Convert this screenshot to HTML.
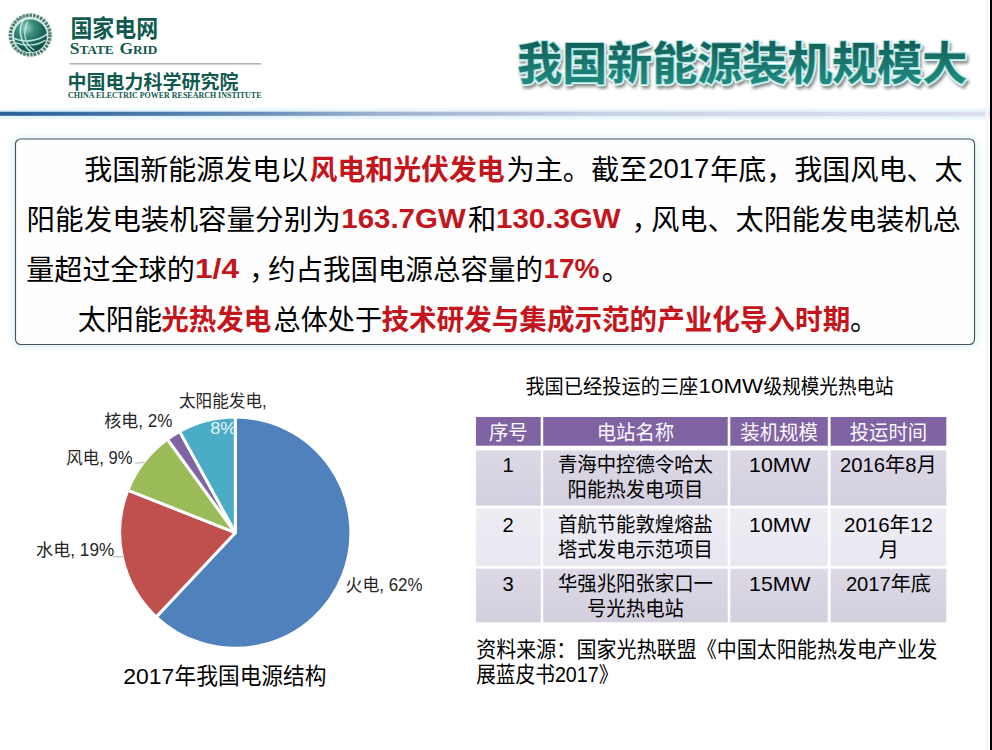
<!DOCTYPE html>
<html lang="zh-CN"><head><meta charset="utf-8"><title>我国新能源装机规模大</title>
<style>
html,body{margin:0;padding:0;background:#fff}
body{width:992px;height:750px;position:relative;overflow:hidden;font-family:"Liberation Sans","Noto Sans CJK SC",sans-serif}
#art{position:absolute;left:0;top:0;width:992px;height:750px;display:block}
#art text{font-family:"Liberation Sans","Noto Sans CJK SC",sans-serif;white-space:pre}
#art text.serif{font-family:"Liberation Serif","Noto Serif CJK SC",serif}
</style></head><body>
<svg id="art" width="992" height="750" viewBox="0 0 992 750">
<defs>
<radialGradient id="globe" cx=".36" cy=".26" r=".85"><stop offset="0" stop-color="#9ad4c4"/><stop offset=".3" stop-color="#3a8c7c"/><stop offset=".65" stop-color="#17635a"/><stop offset="1" stop-color="#0d4a42"/></radialGradient>
<linearGradient id="tg" gradientUnits="userSpaceOnUse" x1="0" y1="83.8" x2="0" y2="42.4"><stop offset="0" stop-color="#20897f"/><stop offset=".55" stop-color="#1a746c"/><stop offset="1" stop-color="#145f59"/></linearGradient>
<linearGradient id="bar" x1="0" y1="0" x2="1" y2="0"><stop offset="0" stop-color="#29619a"/><stop offset=".14" stop-color="#4876a8"/><stop offset=".26" stop-color="#688fb8"/><stop offset=".38" stop-color="#9db0ce"/><stop offset=".5" stop-color="#b4c0da"/><stop offset=".62" stop-color="#cbd2e5"/><stop offset="1" stop-color="#dcdeee"/></linearGradient>
<linearGradient id="r1" x1="0" y1="0" x2="0" y2="1"><stop offset="0" stop-color="#dcd8e5"/><stop offset="1" stop-color="#d4cfde"/></linearGradient>
<linearGradient id="r2" x1="0" y1="0" x2="0" y2="1"><stop offset="0" stop-color="#eeedf4"/><stop offset="1" stop-color="#e9e7f0"/></linearGradient>
<filter id="blur1" x="-5%" y="-100%" width="110%" height="300%"><feGaussianBlur stdDeviation="1.4"/></filter>
<filter id="blur3" x="-5%" y="-20%" width="110%" height="140%"><feGaussianBlur stdDeviation="3"/></filter>
<filter id="blur2" x="-5%" y="-20%" width="110%" height="140%"><feGaussianBlur stdDeviation="1.6"/></filter>
</defs>
<g id="logo" transform="translate(30.2 35)">
<circle r="22.3" fill="#e3f1ed"/>
<circle r="19.8" fill="none" stroke="#3f7166" stroke-width="3.5" stroke-dasharray="2.3 1.25" opacity=".85"/>
<circle r="19.5" fill="none" stroke="#2d5c53" stroke-width="2.1" stroke-dasharray="1.1 2.9 1.7 1.9" stroke-dashoffset="1" opacity=".55"/>
<circle r="17.5" fill="#cfe9e2"/>
<circle cx=".3" cy=".8" r="16.4" fill="url(#globe)"/>
<g fill="none" stroke="#cdf0e7" stroke-linecap="round" opacity=".92">
<path d="M-7 -14.2C-12.5 -6 -10 8 .4 16.6" stroke-width="1.5"/>
<path d="M-2.6 -13C-8 -2 -5.5 9 3.8 15" stroke-width="1.2"/>
<path d="M-16 3.6C-6 8.2 8 5.8 16.6 -.6" stroke-width="1.7"/>
<path d="M-14.2 7.8C-4 11.6 7 10.6 14.8 5.4" stroke-width="1.3"/>
</g></g>
<text x="70.4" y="36.7" font-size="24.4" font-weight="700" fill="#115a4f" textLength="87.8" lengthAdjust="spacingAndGlyphs">国家电网</text>
<text class="serif" x="69.8" y="53.5" font-size="17.5" font-weight="700" fill="#115a4f">S</text>
<text class="serif" x="79.43" y="53.5" font-size="13.3" font-weight="700" fill="#115a4f">TATE</text>
<text class="serif" x="119.41" y="53.5" font-size="17.5" font-weight="700" fill="#115a4f">G</text>
<text class="serif" x="132.88" y="53.5" font-size="13.3" font-weight="700" fill="#115a4f">RID</text>
<rect x="69.5" y="63.3" width="191.8" height="1.1" fill="#979393"/>
<text x="67.6" y="88.5" font-size="18.9" font-weight="700" fill="#115a4f" textLength="170.8" lengthAdjust="spacingAndGlyphs">中国电力科学研究院</text>
<text class="serif" x="68" y="98.1" font-size="8" font-weight="700" fill="#115a4f" textLength="193.5" lengthAdjust="spacingAndGlyphs">CHINA ELECTRIC POWER RESEARCH INSTITUTE</text>
<g filter="url(#blur2)" opacity=".8"><text x="519.2" y="82.6" font-size="45" font-weight="700" fill="#667474" stroke="#667474" stroke-width="3.4" stroke-linejoin="round" textLength="450" lengthAdjust="spacingAndGlyphs">我国新能源装机规模大</text></g>
<text x="517.2" y="80.2" font-size="45" font-weight="700" fill="#fff" stroke="#fff" stroke-width="4.1" stroke-linejoin="round" textLength="450" lengthAdjust="spacingAndGlyphs">我国新能源装机规模大</text>
<text x="517.2" y="80.2" font-size="45" font-weight="700" fill="#fff" stroke="#a4e2df" stroke-width="2.25" stroke-linejoin="round" textLength="450" lengthAdjust="spacingAndGlyphs">我国新能源装机规模大</text>
<text x="517.2" y="80.2" font-size="45" font-weight="700" fill="url(#tg)" textLength="450" lengthAdjust="spacingAndGlyphs">我国新能源装机规模大</text>
<rect x="0" y="109" width="990" height="10" fill="#bfe3f7" opacity=".45" filter="url(#blur1)"/>
<rect x="0" y="111.7" width="990" height="4.1" fill="url(#bar)"/>
<rect x="12.5" y="136.5" width="965.5" height="211.5" rx="9" fill="#e2f3f8" filter="url(#blur3)"/>
<rect x="15.5" y="139" width="959" height="205.5" rx="5.2" fill="#fefefe" stroke="#40585c" stroke-width="1.15"/>
<text x="84.34" y="180.1" font-size="28.24" fill="#000" textLength="224" lengthAdjust="spacingAndGlyphs">我国新能源发电以</text>
<text x="309.61" y="180.1" font-size="28.24" font-weight="700" fill="#c3151b" textLength="195" lengthAdjust="spacingAndGlyphs">风电和光伏发电</text>
<text x="506.45" y="180.1" font-size="28.24" fill="#000" textLength="141" lengthAdjust="spacingAndGlyphs">为主。截至</text>
<text x="648.2" y="178.12" font-size="27.2" fill="#000" textLength="61" lengthAdjust="spacingAndGlyphs">2017</text>
<text x="710.24" y="180.1" font-size="28.24" fill="#000" textLength="252.3" lengthAdjust="spacingAndGlyphs">年底，我国风电、太</text>
<text x="26.54" y="230.2" font-size="28.24" fill="#000" textLength="314.3" lengthAdjust="spacingAndGlyphs">阳能发电装机容量分别为</text>
<text x="341.3" y="228.1" font-size="27.6" font-weight="700" fill="#c3151b" textLength="124.4" lengthAdjust="spacingAndGlyphs">163.7GW</text>
<text x="467.97" y="230.2" font-size="28.24" fill="#000">和</text>
<text x="496" y="228.1" font-size="27.6" font-weight="700" fill="#c3151b" textLength="124.7" lengthAdjust="spacingAndGlyphs">130.3GW</text>
<text x="631.5" y="230.2" font-size="28.24" fill="#000">，</text>
<text x="651.17" y="230.2" font-size="28.24" fill="#000" textLength="309.4" lengthAdjust="spacingAndGlyphs">风电、太阳能发电装机总</text>
<text x="26.27" y="280.1" font-size="28.24" fill="#000" textLength="168.6" lengthAdjust="spacingAndGlyphs">量超过全球的</text>
<text x="195" y="278" font-size="27.6" font-weight="700" fill="#c3151b" textLength="44" lengthAdjust="spacingAndGlyphs">1/4</text>
<text x="249" y="280.1" font-size="28.24" fill="#000">，</text>
<text x="268.08" y="280.1" font-size="28.24" fill="#000" textLength="275" lengthAdjust="spacingAndGlyphs">约占我国电源总容量的</text>
<text x="543.5" y="278" font-size="27.6" font-weight="700" fill="#c3151b" textLength="56" lengthAdjust="spacingAndGlyphs">17%</text>
<text x="601.8" y="280.1" font-size="28.24" fill="#000">。</text>
<text x="77.83" y="330.2" font-size="28.24" fill="#000" textLength="84.1" lengthAdjust="spacingAndGlyphs">太阳能</text>
<text x="161.35" y="330.2" font-size="28.24" font-weight="700" fill="#c3151b" textLength="110" lengthAdjust="spacingAndGlyphs">光热发电</text>
<text x="273.59" y="330.2" font-size="28.24" fill="#000" textLength="108.6" lengthAdjust="spacingAndGlyphs">总体处于</text>
<text x="381.44" y="330.2" font-size="28.24" font-weight="700" fill="#c3151b" textLength="468.8" lengthAdjust="spacingAndGlyphs">技术研发与集成示范的产业化导入时期</text>
<text x="850" y="330.2" font-size="28.24" fill="#000">。</text>
<g stroke="#fff" stroke-width="3" stroke-linejoin="round"><path d="M235.30 532.70L235.30 417.10A115.60 115.60 0 1 1 156.17 616.97Z" fill="#4f81bd"/><path d="M235.30 532.70L156.17 616.97A115.60 115.60 0 0 1 127.82 490.14Z" fill="#c0504d"/><path d="M235.30 532.70L127.82 490.14A115.60 115.60 0 0 1 167.35 439.18Z" fill="#9bbb59"/><path d="M235.30 532.70L167.35 439.18A115.60 115.60 0 0 1 179.61 431.40Z" fill="#8064a2"/><path d="M235.30 532.70L179.61 431.40A115.60 115.60 0 0 1 235.30 417.10Z" fill="#4bacc6"/></g>
<text x="179" y="406.6" font-size="17.5" fill="#262626" textLength="87.7" lengthAdjust="spacingAndGlyphs">太阳能发电,</text>
<text x="210.2" y="433.7" font-size="16.9" fill="#e4f7fa" textLength="26.3" lengthAdjust="spacingAndGlyphs">8%</text>
<text x="104.2" y="426.6" font-size="17.5" fill="#262626" textLength="68.3" lengthAdjust="spacingAndGlyphs">核电, 2%</text>
<text x="66.2" y="463.6" font-size="17.5" fill="#262626" textLength="66.2" lengthAdjust="spacingAndGlyphs">风电, 9%</text>
<text x="36" y="556.2" font-size="17.5" fill="#262626" textLength="78.2" lengthAdjust="spacingAndGlyphs">水电, 19%</text>
<text x="345.6" y="591.2" font-size="17.5" fill="#262626" textLength="76.9" lengthAdjust="spacingAndGlyphs">火电, 62%</text>
<path d="M135 463.2L144.5 462.4M113 556.8H123.5" stroke="#b0b8be" stroke-width="1" fill="none"/>
<text x="123.28" y="683.6" font-size="22.6" fill="#000" textLength="51" lengthAdjust="spacingAndGlyphs">2017</text>
<text x="174.46" y="684" font-size="22.9" fill="#000" textLength="152.1" lengthAdjust="spacingAndGlyphs">年我国电源结构</text>
<text x="525.41" y="393.7" font-size="20.4" fill="#000" textLength="172.9" lengthAdjust="spacingAndGlyphs">我国已经投运的三座</text>
<text x="698.59" y="393.3" font-size="20" fill="#000" textLength="64.5" lengthAdjust="spacingAndGlyphs">10MW</text>
<text x="763.62" y="393.7" font-size="20.4" fill="#000" textLength="130.1" lengthAdjust="spacingAndGlyphs">级规模光热电站</text>
<rect x="476.0" y="417.0" width="64.7" height="28.7" fill="#7f63a3"/>
<rect x="543.2" y="417.0" width="184.5" height="28.7" fill="#7f63a3"/>
<rect x="730.3" y="417.0" width="97.5" height="28.7" fill="#7f63a3"/>
<rect x="830.6" y="417.0" width="115.7" height="28.7" fill="#7f63a3"/>
<rect x="476.0" y="450.4" width="64.7" height="55.2" fill="url(#r1)"/>
<rect x="543.2" y="450.4" width="184.5" height="55.2" fill="url(#r1)"/>
<rect x="730.3" y="450.4" width="97.5" height="55.2" fill="url(#r1)"/>
<rect x="830.6" y="450.4" width="115.7" height="55.2" fill="url(#r1)"/>
<rect x="476.0" y="508.3" width="64.7" height="57.6" fill="url(#r2)"/>
<rect x="543.2" y="508.3" width="184.5" height="57.6" fill="url(#r2)"/>
<rect x="730.3" y="508.3" width="97.5" height="57.6" fill="url(#r2)"/>
<rect x="830.6" y="508.3" width="115.7" height="57.6" fill="url(#r2)"/>
<rect x="476.0" y="568.7" width="64.7" height="53.6" fill="url(#r1)"/>
<rect x="543.2" y="568.7" width="184.5" height="53.6" fill="url(#r1)"/>
<rect x="730.3" y="568.7" width="97.5" height="53.6" fill="url(#r1)"/>
<rect x="830.6" y="568.7" width="115.7" height="53.6" fill="url(#r1)"/>
<text x="488.96" y="440.1" font-size="20.2" fill="#fbf9fd" textLength="38.8" lengthAdjust="spacingAndGlyphs">序号</text>
<text x="596.67" y="440.1" font-size="20.2" fill="#fbf9fd" textLength="77.6" lengthAdjust="spacingAndGlyphs">电站名称</text>
<text x="740.27" y="440.1" font-size="20.2" fill="#fbf9fd" textLength="77.6" lengthAdjust="spacingAndGlyphs">装机规模</text>
<text x="849.67" y="440.1" font-size="20.2" fill="#fbf9fd" textLength="77.6" lengthAdjust="spacingAndGlyphs">投运时间</text>
<text x="502.57" y="472.2" font-size="20.2" fill="#000">1</text>
<text x="557.88" y="472.2" font-size="20.2" fill="#000" textLength="155.1" lengthAdjust="spacingAndGlyphs">青海中控德令哈太</text>
<text x="749.13" y="472.2" font-size="20.2" fill="#000" textLength="61.4" lengthAdjust="spacingAndGlyphs">10MW</text>
<text x="840.13" y="472.2" font-size="20.2" fill="#000" textLength="96.6" lengthAdjust="spacingAndGlyphs">2016年8月</text>
<text x="567.58" y="497.1" font-size="20.2" fill="#000" textLength="135.7" lengthAdjust="spacingAndGlyphs">阳能热发电项目</text>
<text x="502.57" y="532.1" font-size="20.2" fill="#000">2</text>
<text x="557.88" y="532.1" font-size="20.2" fill="#000" textLength="155.1" lengthAdjust="spacingAndGlyphs">首航节能敦煌熔盐</text>
<text x="749.13" y="532.1" font-size="20.2" fill="#000" textLength="61.4" lengthAdjust="spacingAndGlyphs">10MW</text>
<text x="844.04" y="532.1" font-size="20.2" fill="#000" textLength="88.8" lengthAdjust="spacingAndGlyphs">2016年12</text>
<text x="557.88" y="556.9" font-size="20.2" fill="#000" textLength="155.1" lengthAdjust="spacingAndGlyphs">塔式发电示范项目</text>
<text x="878.75" y="556.9" font-size="20.2" fill="#000">月</text>
<text x="502.57" y="591.3" font-size="20.2" fill="#000">3</text>
<text x="557.88" y="591.3" font-size="20.2" fill="#000" textLength="155.1" lengthAdjust="spacingAndGlyphs">华强兆阳张家口一</text>
<text x="749.13" y="591.3" font-size="20.2" fill="#000" textLength="61.4" lengthAdjust="spacingAndGlyphs">15MW</text>
<text x="845.92" y="591.3" font-size="20.2" fill="#000" textLength="85.1" lengthAdjust="spacingAndGlyphs">2017年底</text>
<text x="586.97" y="616.2" font-size="20.2" fill="#000" textLength="97" lengthAdjust="spacingAndGlyphs">号光热电站</text>
<text x="476.2" y="657.2" font-size="21.4" fill="#000" textLength="461" lengthAdjust="spacingAndGlyphs">资料来源：国家光热联盟《中国太阳能热发电产业发</text>
<text x="476.2" y="681.5" font-size="21.4" fill="#000" textLength="142.2" lengthAdjust="spacingAndGlyphs">展蓝皮书2017》</text>
<rect x="985.5" y="0" width="3" height="750" fill="#f8f8fa"/>
<rect x="990" y="0" width="2" height="750" fill="#000"/>
</svg>
</body></html>
